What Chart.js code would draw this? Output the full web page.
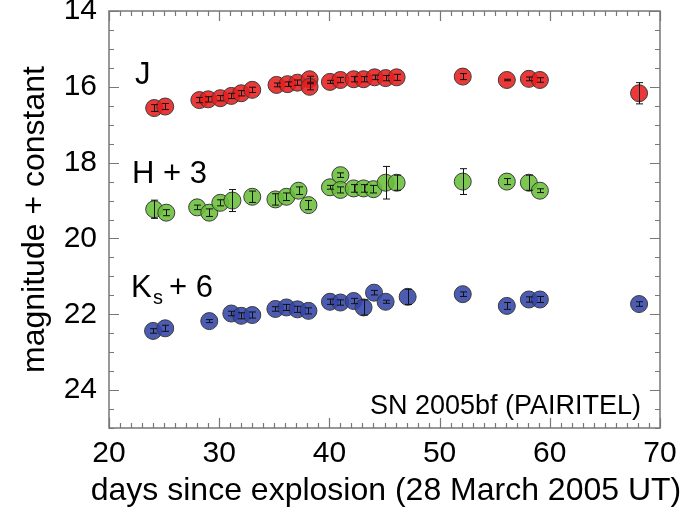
<!DOCTYPE html>
<html>
<head>
<meta charset="utf-8">
<script src="https://cdn.jsdelivr.net/npm/chart.js@4/dist/chart.umd.min.js"></script>
<style>
  html, body { margin: 0; padding: 0; background: #fff; }
  #wrap { width: 695px; height: 510px; position: relative; }
</style>
</head>
<body>
<div id="wrap"><canvas id="lc" width="695" height="510"></canvas></div>
<script>
// light curve of SN 2005bf
var jDays = [24.1, 25.1, 28.2, 29.0, 30.1, 31.1, 32.0, 33.0, 35.2, 36.2, 37.1, 38.2, 38.2, 40.05, 41.0, 42.2, 43.1, 44.1, 45.1, 46.1, 52.1, 56.1, 58.1, 59.1, 68.1];
var jMag  = [16.56, 16.52, 16.35, 16.33, 16.30, 16.24, 16.17, 16.08, 15.95, 15.93, 15.89, 15.80, 16.00, 15.87, 15.82, 15.80, 15.80, 15.75, 15.77, 15.75, 15.73, 15.82, 15.79, 15.82, 16.17];
var jErr  = [0.09, 0.08, 0.07, 0.07, 0.07, 0.07, 0.07, 0.07, 0.05, 0.06, 0.07, 0.08, 0.08, 0.04, 0.07, 0.07, 0.07, 0.06, 0.07, 0.08, 0.08, 0.02, 0.05, 0.06, 0.28];

var hDays = [24.1, 25.2, 28.0, 29.1, 30.1, 31.2, 33.0, 35.1, 36.1, 37.2, 38.1, 40.05, 41.0, 41.0, 42.2, 43.1, 44.0, 45.1, 46.1, 52.1, 56.1, 58.1, 59.1];
var hMag  = [19.23, 19.32, 19.18, 19.32, 19.06, 19.00, 18.90, 18.97, 18.90, 18.74, 19.12, 18.65, 18.33, 18.72, 18.68, 18.68, 18.70, 18.53, 18.53, 18.50, 18.50, 18.53, 18.74];
var hErr  = [0.24, 0.08, 0.06, 0.10, 0.08, 0.29, 0.15, 0.15, 0.10, 0.10, 0.12, 0.05, 0.06, 0.08, 0.10, 0.10, 0.10, 0.43, 0.20, 0.34, 0.08, 0.20, 0.05];

var kDays = [24.0, 25.1, 29.1, 31.1, 32.0, 33.0, 35.1, 36.1, 37.1, 38.1, 40.05, 41.0, 42.2, 43.1, 44.05, 45.1, 47.1, 52.1, 56.1, 58.1, 59.1, 68.1];
var kMag  = [22.44, 22.37, 22.18, 21.98, 22.04, 22.02, 21.86, 21.82, 21.87, 21.91, 21.67, 21.69, 21.65, 21.82, 21.43, 21.67, 21.54, 21.47, 21.78, 21.61, 21.61, 21.73];
var kErr  = [0.06, 0.08, 0.04, 0.06, 0.08, 0.08, 0.06, 0.08, 0.08, 0.08, 0.07, 0.07, 0.07, 0.20, 0.06, 0.04, 0.20, 0.06, 0.09, 0.07, 0.08, 0.06];

var xTicks = [20, 30, 40, 50, 60, 70];
var yTicks = [14, 16, 18, 20, 22, 24];
var xTitle = 'days since explosion (28 March 2005 UT)';

const FONT = "'Liberation Sans', Arial, Helvetica, sans-serif";

function pts(d, m) { return d.map((x, i) => ({ x: x, y: m[i] })); }

// box + inward ticks on all four sides, like the IDL original
const frame = {
    id: 'frame',
    afterDraw(chart) {
        const { ctx, chartArea: a, scales: { x, y } } = chart;
        ctx.save();
        ctx.strokeStyle = '#777';
        ctx.lineWidth = 1.5;
        ctx.strokeRect(a.left, a.top, a.right - a.left, a.bottom - a.top);
        ctx.lineWidth = 1.2;
        ctx.beginPath();
        for (let v = 20; v <= 70; v += 1) {
            const px = Math.round(x.getPixelForValue(v)) + 0.5;
            const len = (v % 10 === 0) ? 10 : 5;
            ctx.moveTo(px, a.bottom); ctx.lineTo(px, a.bottom - len);
            ctx.moveTo(px, a.top); ctx.lineTo(px, a.top + len);
        }
        for (let v = 14; v <= 25; v += 0.5) {
            const py = Math.round(y.getPixelForValue(v)) + 0.5;
            const len = (v % 2 === 0) ? 10 : 5;
            ctx.moveTo(a.left, py); ctx.lineTo(a.left + len, py);
            ctx.moveTo(a.right, py); ctx.lineTo(a.right - len, py);
        }
        ctx.stroke();

        // band labels and title text
        ctx.fillStyle = '#000';
        ctx.textBaseline = 'alphabetic';
        ctx.font = '31px ' + FONT;
        ctx.fillText('J', 135, 84);
        ctx.fillText('H + 3', 132, 183);
        ctx.fillText('K', 131, 297);
        ctx.font = '20px ' + FONT;
        ctx.fillText('s', 153, 304);
        ctx.font = '31px ' + FONT;
        ctx.fillText('+ 6', 169, 297);
        ctx.font = '27px ' + FONT;
        ctx.textAlign = 'right';
        ctx.fillText('SN 2005bf (PAIRITEL)', 641, 414);

        // x title is wider than the plot box, so draw it here (chart.js squeezes it)
        ctx.font = '32px ' + FONT;
        ctx.textAlign = 'center';
        ctx.textBaseline = 'middle';
        ctx.fillText(xTitle, 386, 491);
        ctx.restore();
    }
};

// vertical error bars drawn over the filled circles
const errBars = {
    id: 'errBars',
    afterDatasetsDraw(chart) {
        const { ctx, scales: { y } } = chart;
        ctx.save();
        ctx.strokeStyle = '#111';
        ctx.lineWidth = 1;
        chart.data.datasets.forEach((ds, di) => {
            const meta = chart.getDatasetMeta(di);
            meta.data.forEach((el, i) => {
                const m = ds.data[i].y, e = ds.err[i];
                const y1 = y.getPixelForValue(m - e), y2 = y.getPixelForValue(m + e);
                const px = Math.round(el.x) + 0.5;
                ctx.beginPath();
                ctx.moveTo(px, y1); ctx.lineTo(px, y2);
                ctx.moveTo(px - 3.5, y1); ctx.lineTo(px + 3.5, y1);
                ctx.moveTo(px - 3.5, y2); ctx.lineTo(px + 3.5, y2);
                ctx.stroke();
            });
        });
        ctx.restore();
    }
};

const mk = (d, m, e, fill) => ({
    data: pts(d, m), err: e,
    backgroundColor: fill, borderColor: '#3a3a3a', borderWidth: 1,
    pointRadius: 8.5, pointHoverRadius: 8.5, showLine: false
});

new Chart(document.getElementById('lc'), {
    type: 'scatter',
    data: {
        datasets: [
            mk(jDays, jMag, jErr, 'rgba(232, 30, 30, 0.88)'),
            mk(hDays, hMag, hErr, 'rgba(106, 190, 58, 0.88)'),
            mk(kDays, kMag, kErr, 'rgba(52, 70, 168, 0.88)')
        ]
    },
    plugins: [errBars, frame],
    options: {
        responsive: false, animation: false,
        devicePixelRatio: 1,
        layout: { padding: { top: 11, right: 35, left: 0, bottom: 0 } },
        plugins: { legend: { display: false }, tooltip: { enabled: false } },
        scales: {
            x: {
                type: 'linear', min: 20, max: 70,
                grid: { display: false, drawTicks: false },
                border: { display: false },
                afterBuildTicks: s => { s.ticks = xTicks.map(v => ({ value: v })); },
                afterFit: s => { s.height = 82; s.paddingLeft = 0; s.paddingRight = 0; },
                ticks: { color: '#000', padding: 8, maxRotation: 0, font: { family: FONT, size: 30 } },
                title: { display: false }
            },
            y: {
                type: 'linear', min: 14, max: 25, reverse: true,
                grid: { display: false, drawTicks: false },
                border: { display: false },
                afterBuildTicks: s => { s.ticks = yTicks.map(v => ({ value: v })); },
                afterFit: s => { s.width = 109; s.paddingTop = 0; s.paddingBottom = 0; },
                ticks: { color: '#000', padding: 12, font: { family: FONT, size: 30 } },
                title: { display: true, text: 'magnitude + constant', color: '#000',
                         padding: { top: 16, bottom: 0 }, font: { family: FONT, size: 32 } }
            }
        }
    }
});
</script>
</body>
</html>
